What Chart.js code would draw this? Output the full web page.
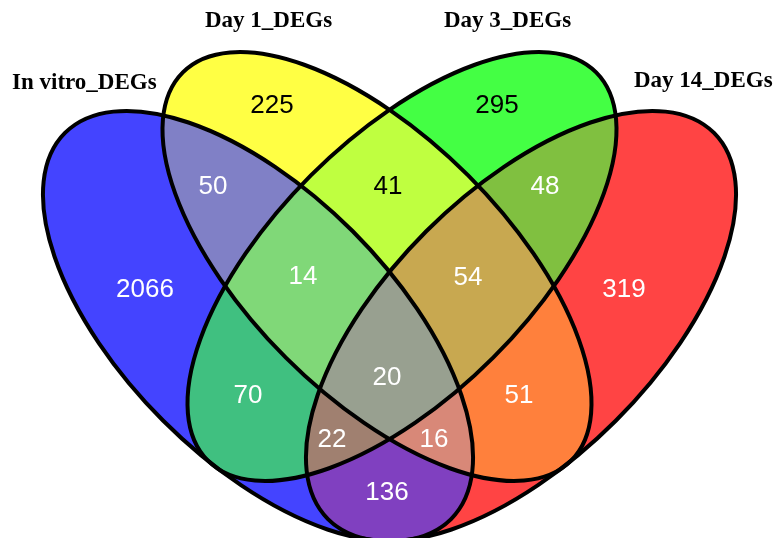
<!DOCTYPE html>
<html>
<head>
<meta charset="utf-8">
<title>Venn DEGs</title>
<script src="https://cdn.jsdelivr.net/npm/chart.js@4.4.0/dist/chart.umd.min.js"></script>
<style>
    html, body { margin: 0; padding: 0; background: #ffffff; }
    #venn { display: block; }
</style>
</head>
<body>
<canvas id="venn" width="775" height="538"></canvas>
<script>
// data
const setNames = ["In vitro_DEGs", "Day 1_DEGs", "Day 3_DEGs", "Day 14_DEGs"];
// which sets each region belongs to (0 = In vitro, 1 = Day 1, 2 = Day 3, 3 = Day 14)
const regionSets = [
    [0], [1], [2], [3],
    [0, 1], [1, 2], [2, 3], [0, 2], [1, 3], [0, 3],
    [0, 1, 2], [1, 2, 3], [0, 2, 3], [0, 1, 3],
    [0, 1, 2, 3],
];
const regionCounts = [2066, 225, 295, 319, 50, 41, 48, 70, 51, 136, 14, 54, 22, 16, 20];

// styles
const regionColors = [
    "#4444ff", "#ffff44", "#44ff44", "#ff4444",
    "#8080c6", "#bfff40", "#80c040", "#40c080", "#ff803c", "#8040c0",
    "#80d878", "#c8a850", "#a08070", "#d88878",
    "#98a090",
];
const labelColors = regionCounts.map((c, i) =>
    [1, 2, 5].includes(i) ? "#000000" : "#ffffff"
);

// layout (units of the x / y scales)
const ellipses = [
    { x: 258, y: 326, a: 273, b: 134, rot: 45 },
    { x: 377, y: 266.5, a: 274.6, b: 128.9, rot: 45 },
    { x: 402, y: 266.5, a: 274.6, b: 128.9, rot: -45 },
    { x: 521, y: 326, a: 273, b: 134, rot: -45 },
];
const regionLabelPos = [
    [145, 290], [272, 106], [497, 106], [624, 290],
    [213, 187], [388, 187], [545, 187], [248, 396], [519, 396], [387, 493],
    [303, 277], [468, 278], [332, 440], [434, 440],
    [387, 378],
];
const setLabelPos = [[12, 89], [205, 27], [444, 27], [634, 87]];

const vennPlugin = {
    id: "venn",
    beforeDatasetsDraw(chart) {
        const ctx = chart.ctx;
        const xs = chart.scales.x;
        const ys = chart.scales.y;
        const area = chart.chartArea;
        const unit = Math.abs(xs.getPixelForValue(1) - xs.getPixelForValue(0));

        function ellipsePath(e) {
            ctx.ellipse(
                xs.getPixelForValue(e.x),
                ys.getPixelForValue(e.y),
                e.a * unit,
                e.b * unit,
                (e.rot * Math.PI) / 180,
                0,
                2 * Math.PI
            );
        }

        regionSets.forEach((sets, i) => {
            ctx.save();
            ellipses.forEach((e, k) => {
                ctx.beginPath();
                ellipsePath(e);
                if (sets.includes(k)) {
                    ctx.clip();
                } else {
                    ctx.rect(area.left, area.top, area.width, area.height);
                    ctx.clip("evenodd");
                }
            });
            ctx.fillStyle = regionColors[i];
            ctx.fillRect(area.left, area.top, area.width, area.height);
            ctx.restore();
        });

        ctx.save();
        ctx.lineWidth = 4;
        ctx.strokeStyle = "#000000";
        ellipses.forEach((e) => {
            ctx.beginPath();
            ellipsePath(e);
            ctx.stroke();
        });
        ctx.restore();
    },
    afterDatasetsDraw(chart) {
        const ctx = chart.ctx;
        const xs = chart.scales.x;
        const ys = chart.scales.y;
        const meta = chart.getDatasetMeta(0);

        ctx.save();
        ctx.font = '26px "Liberation Sans", Arial, sans-serif';
        ctx.textAlign = "center";
        ctx.textBaseline = "middle";
        meta.data.forEach((pt, i) => {
            ctx.fillStyle = labelColors[i];
            ctx.fillText(String(regionCounts[i]), pt.x, pt.y);
        });

        ctx.font = 'bold 23px "Liberation Serif", "Times New Roman", serif';
        ctx.textAlign = "left";
        ctx.textBaseline = "alphabetic";
        ctx.fillStyle = "#000000";
        setNames.forEach((name, i) => {
            ctx.fillText(
                name,
                xs.getPixelForValue(setLabelPos[i][0]),
                ys.getPixelForValue(setLabelPos[i][1])
            );
        });
        ctx.restore();
    },
};

new Chart(document.getElementById("venn"), {
    type: "scatter",
    data: {
        datasets: [
            {
                label: "DEGs",
                data: regionCounts.map((c, i) => ({
                    x: regionLabelPos[i][0],
                    y: regionLabelPos[i][1],
                    count: c,
                })),
                pointRadius: 0,
                pointHoverRadius: 0,
            },
        ],
    },
    options: {
        responsive: false,
        animation: false,
        devicePixelRatio: 1,
        layout: { padding: 0 },
        plugins: {
            legend: { display: false },
            tooltip: { enabled: false },
        },
        scales: {
            x: { type: "linear", min: 0, max: 775, display: false },
            y: { type: "linear", min: 0, max: 538, reverse: true, display: false },
        },
    },
    plugins: [vennPlugin],
});
</script>
</body>
</html>
